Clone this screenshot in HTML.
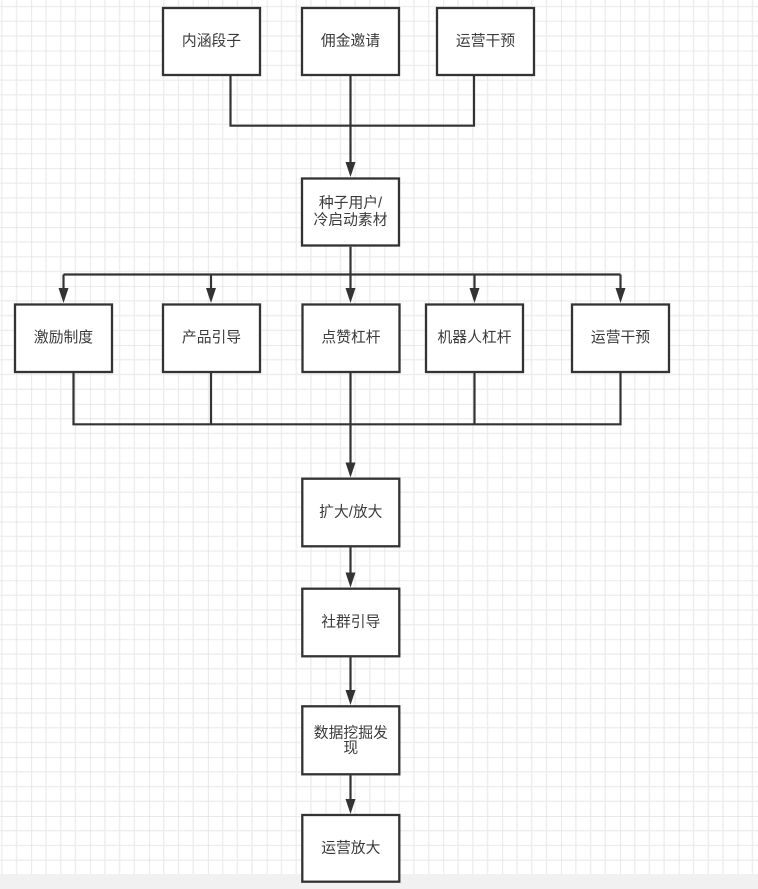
<!DOCTYPE html>
<html>
<head>
<meta charset="utf-8">
<style>
html,body{margin:0;padding:0;background:#fff;}
body{width:758px;height:889px;overflow:hidden;}
svg{display:block;}
text{font-family:"Liberation Sans","Noto Sans CJK SC",sans-serif;font-size:14.8px;fill:#3a3a3a;text-anchor:middle;dominant-baseline:central;}
</style>
</head>
<body>
<svg width="758" height="889" viewBox="0 0 758 889" xmlns="http://www.w3.org/2000/svg">
<defs>
<pattern id="g" patternUnits="userSpaceOnUse" x="31.3" y="50.7" width="58.87" height="58.87">
<rect width="58.87" height="58.87" fill="#fff"/>
<g stroke="#ececec" stroke-width="1.3">
<line x1="14.72" y1="0" x2="14.72" y2="58.87"/>
<line x1="29.43" y1="0" x2="29.43" y2="58.87"/>
<line x1="44.15" y1="0" x2="44.15" y2="58.87"/>
<line x1="0" y1="14.72" x2="58.87" y2="14.72"/>
<line x1="0" y1="29.43" x2="58.87" y2="29.43"/>
<line x1="0" y1="44.15" x2="58.87" y2="44.15"/>
</g>
<g stroke="#dedede" stroke-width="1.3">
<line x1="0" y1="0" x2="0" y2="58.87"/>
<line x1="0" y1="0" x2="58.87" y2="0"/>
</g>
</pattern>
</defs>
<rect x="0" y="0" width="758" height="889" fill="url(#g)"/>
<rect x="0" y="874" width="758" height="15" fill="#f1f1f1"/>

<g stroke="#333" stroke-width="2.2" fill="none">
<polyline points="230.5,76 230.5,125.7 474,125.7 474,76"/>
<line x1="350.5" y1="76" x2="350.5" y2="164"/>
<line x1="350.5" y1="246.7" x2="350.5" y2="274.5"/>
<line x1="63.5" y1="274.5" x2="620.5" y2="274.5"/>
<line x1="63.5" y1="274.5" x2="63.5" y2="290"/>
<line x1="211" y1="274.5" x2="211" y2="290"/>
<line x1="350.5" y1="274.5" x2="350.5" y2="290"/>
<line x1="474.5" y1="274.5" x2="474.5" y2="290"/>
<line x1="620.5" y1="274.5" x2="620.5" y2="290"/>
<polyline points="73.5,372.7 73.5,424.3 620.5,424.3 620.5,372.7"/>
<line x1="211" y1="372.7" x2="211" y2="424.3"/>
<line x1="474.5" y1="372.7" x2="474.5" y2="424.3"/>
<line x1="350.5" y1="372.7" x2="350.5" y2="464"/>
<line x1="350.5" y1="547.3" x2="350.5" y2="574"/>
<line x1="350.5" y1="657.3" x2="350.5" y2="692"/>
<line x1="350.5" y1="775.3" x2="350.5" y2="801"/>
</g>

<g fill="#333">
<polygon points="345.5,162 355.5,162 350.5,177"/>
<polygon points="58.5,288 68.5,288 63.5,303"/>
<polygon points="206,288 216,288 211,303"/>
<polygon points="345.5,288 355.5,288 350.5,303"/>
<polygon points="469.5,288 479.5,288 474.5,303"/>
<polygon points="615.5,288 625.5,288 620.5,303"/>
<polygon points="345.5,462.5 355.5,462.5 350.5,477.5"/>
<polygon points="345.5,572.5 355.5,572.5 350.5,587.5"/>
<polygon points="345.5,690 355.5,690 350.5,705"/>
<polygon points="345.5,799 355.5,799 350.5,814"/>
</g>

<g stroke="#333" stroke-width="2.3" fill="#fff">
<rect x="163" y="8" width="97" height="67"/>
<rect x="302" y="8" width="97" height="67"/>
<rect x="437" y="8" width="97" height="67"/>
<rect x="302" y="178.5" width="97" height="67"/>
<rect x="15" y="304.5" width="97" height="67.5"/>
<rect x="163" y="304.5" width="97" height="67.5"/>
<rect x="302.5" y="304.5" width="97" height="67.5"/>
<rect x="426" y="304.5" width="97" height="67.5"/>
<rect x="572" y="304.5" width="97" height="67.5"/>
<rect x="302.3" y="478.7" width="97" height="67.6"/>
<rect x="302.3" y="588.7" width="97" height="67.6"/>
<rect x="302.3" y="706.3" width="97" height="68"/>
<rect x="302.3" y="815" width="97" height="66.7"/>
</g>

<text x="211.5" y="41.5">内涵段子</text>
<text x="350.5" y="41.5">佣金邀请</text>
<text x="485.5" y="41.5">运营干预</text>
<text x="350.5" y="203.3">种子用户/</text>
<text x="350.5" y="220.7">冷启动素材</text>
<text x="63.5" y="338">激励制度</text>
<text x="211.5" y="338">产品引导</text>
<text x="351" y="338">点赞杠杆</text>
<text x="474.5" y="338">机器人杠杆</text>
<text x="620.5" y="338">运营干预</text>
<text x="350.8" y="512.5">扩大/放大</text>
<text x="350.8" y="622.5">社群引导</text>
<text x="350.8" y="733.3">数据挖掘发</text>
<text x="350.8" y="748.3">现</text>
<text x="350.8" y="848.3">运营放大</text>
</svg>
</body>
</html>
